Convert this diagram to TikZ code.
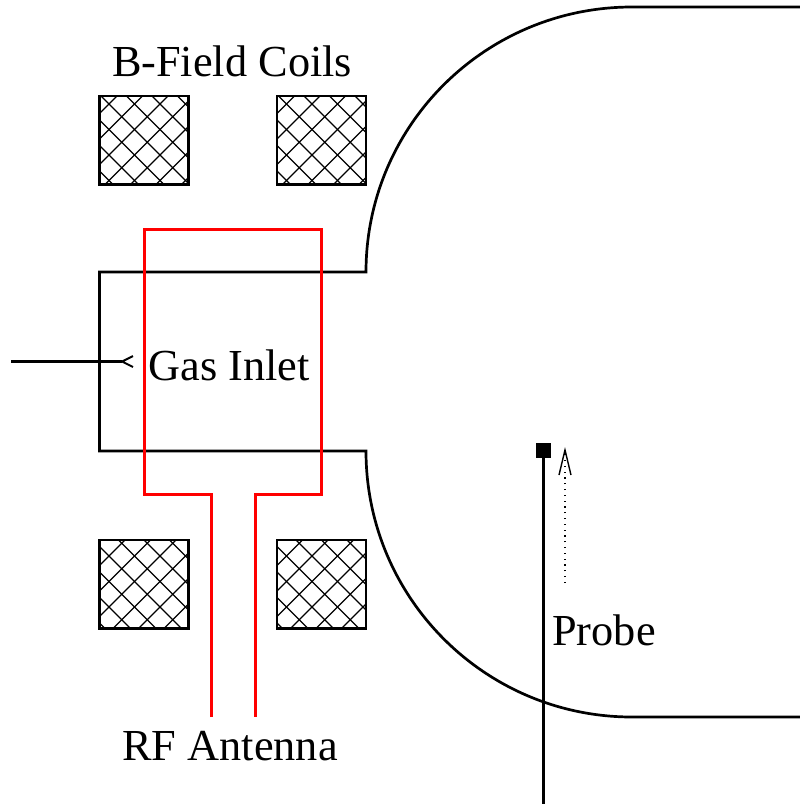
\documentclass[tikz,border=0pt]{standalone}
\usepackage{fontspec}
\setmainfont{Liberation Serif}
\definecolor{rfred}{RGB}{255,0,0}
\tikzset{
  wall/.style={black,line width=2.7pt,line cap=round,line join=miter},
  antenna/.style={rfred,line width=3pt,line join=miter},
  hatchline/.style={black,line width=1.3pt},
  coilbox/.style={black,line width=2.7pt},
  label/.style={font=\fontsize{44.3}{44.3}\selectfont,inner sep=0pt,anchor=base,text=black},
  chevron/.style={black,line width=2pt,line join=miter}
}
\newcommand{\coil}[4]{% x0, y0, phase of x+y family, phase of x-y family
  \begin{scope}
    \clip (#1,#2) rectangle ++(89,88.5);
    \foreach \k in {-6,...,12}{
      \draw[hatchline] ({#1+#3+\k*25.5},#2) -- ++(-100,100);
      \draw[hatchline] ({#1+#4+\k*25.5},#2) -- ++(100,100);
    }
  \end{scope}
  \draw[coilbox] (#1,#2) rectangle ++(89,88.5);
}
\begin{document}
\begin{tikzpicture}[x=1pt,y=-1pt]
\useasboundingbox (0,0) rectangle (800,804);
\fill[white] (0,0) rectangle (800,804);
\coil{99.5}{96}{17.5}{1.5}
\coil{277}{96}{17.5}{1.5}
\coil{99.5}{540}{0}{19}
\coil{277}{540}{0}{19}
\draw[wall] (800,7) -- (632,7) arc[start angle=90,end angle=180,x radius=266,y radius=-265] -- (99.5,272) -- (99.5,451) -- (366,451) arc[start angle=180,end angle=270,x radius=266,y radius=-266] -- (800,717);
\draw[antenna] (211,717) -- (211,494.5) -- (144,494.5) -- (144,229) -- (321,229) -- (321,494.5) -- (255,494.5) -- (255,717);
\coordinate (inletstart) at (11,361.5);
\coordinate (inlettip) at (122,361.5);
\draw[black,line width=2.4pt] (inletstart) -- (inlettip);
\draw[chevron] (133,356) -- (inlettip) -- (133,367);
\node[draw=black,fill=black,minimum size=14pt,inner sep=0pt,line width=0pt] (probehead) at (543.5,450.5) {};
\coordinate (probebase) at (543.5,804);
\draw[black,line width=2.7pt] (probebase) -- (probehead);
\coordinate (dotstart) at (565,583);
\coordinate (dottip) at (565,450);
\draw[black,line width=1.2pt,dash pattern=on 1.2pt off 4.6pt] (dotstart) -- (dottip);
\draw[chevron,line width=1.4pt] (559,475) -- (dottip) -- (571,475);
\node[label] (bfield) at (232,76) {B-Field Coils};
\node[label] (gas) at (229,380) {Gas Inlet};
\node[label] (probe) at (604,645) {Probe};
\node[label] (rf) at (230,760) {RF Antenna};
\end{tikzpicture}
\end{document}
